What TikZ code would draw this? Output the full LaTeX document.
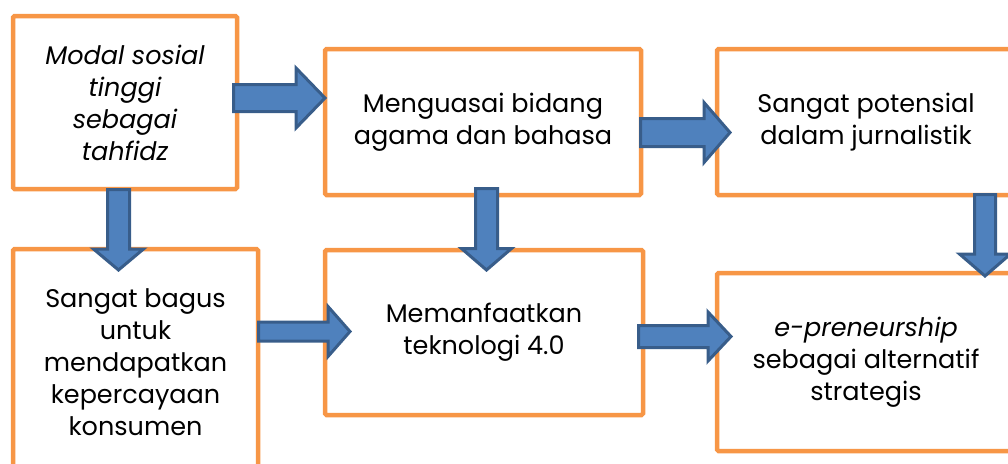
\documentclass[tikz,border=0pt]{standalone}
\usepackage{fontspec}
\setmainfont{Poppins}
\definecolor{boxorange}{HTML}{F79646}
\definecolor{arrowfill}{HTML}{4F81BD}
\definecolor{arrowedge}{HTML}{385D8A}
% horizontal block arrow: tail x, centre y, head start x, tip x, shaft half width, head half width
\newcommand\hblockarrow[6]{%
  \draw[blockarrow] (#1,#2-#5) -- (#3,#2-#5) -- (#3,#2-#6) -- (#4,#2)
    -- (#3,#2+#6) -- (#3,#2+#5) -- (#1,#2+#5) -- cycle;}
% vertical block arrow: centre x, tail y, head start y, tip y, shaft half width, head half width
\newcommand\vblockarrow[6]{%
  \draw[blockarrow] (#1-#5,#2) -- (#1-#5,#3) -- (#1-#6,#3) -- (#1,#4)
    -- (#1+#6,#3) -- (#1+#5,#3) -- (#1+#5,#2) -- cycle;}
\begin{document}
\begin{tikzpicture}[x=1pt,y=-1pt,
  box/.style={draw=boxorange, line width=4.5pt, rounded corners=1.5pt, fill=white,
    align=center, inner sep=0pt, font=\fontsize{25.5}{32}\selectfont},
  blockarrow/.style={draw=arrowedge, fill=arrowfill, line width=3pt, line join=miter}]
\useasboundingbox (0,0) rectangle (1008,463);
\begin{scope}
\clip (0,0) rectangle (1008,463);
% process boxes
\node[box, minimum width=224pt, minimum height=173pt,
  font=\fontsize{25.5}{32}\selectfont\itshape] (modal) at (125,102.5)
  {Modal sosial\\tinggi\\sebagai\\tahfidz};
\node[box, minimum width=316pt, minimum height=146pt] (agama) at (483,122)
  {Menguasai bidang\\agama dan bahasa};
\node[box, minimum width=298pt, minimum height=146pt] (jurnal) at (866,122)
  {Sangat potensial\\dalam jurnalistik};
\node[box, minimum width=245pt, minimum height=226pt] (bagus) at (135.5,362)
  {Sangat bagus\\untuk\\mendapatkan\\kepercayaan\\konsumen};
\node[box, minimum width=318pt, minimum height=165pt] (tekno) at (484,332.5)
  {Memanfaatkan\\teknologi 4.0};
\node[box, minimum width=298pt, minimum height=178pt] (epre) at (866,362)
  {{\itshape e-preneurship}\\sebagai alternatif\\strategis};
% block arrows between the boxes
\hblockarrow{233.5}{98}{296}{325}{13.5}{30}
\hblockarrow{640.5}{132.5}{704}{730}{14}{30}
\hblockarrow{258.5}{331.5}{328}{350}{9.5}{25}
\hblockarrow{638.5}{336.5}{708}{731}{11}{24.5}
\vblockarrow{985}{194.5}{254}{276}{10.5}{25.5}
\vblockarrow{118.5}{189.5}{249}{270}{11}{25}
\vblockarrow{486.5}{188.5}{248.5}{270}{11}{25}
\end{scope}
\end{tikzpicture}
\end{document}
